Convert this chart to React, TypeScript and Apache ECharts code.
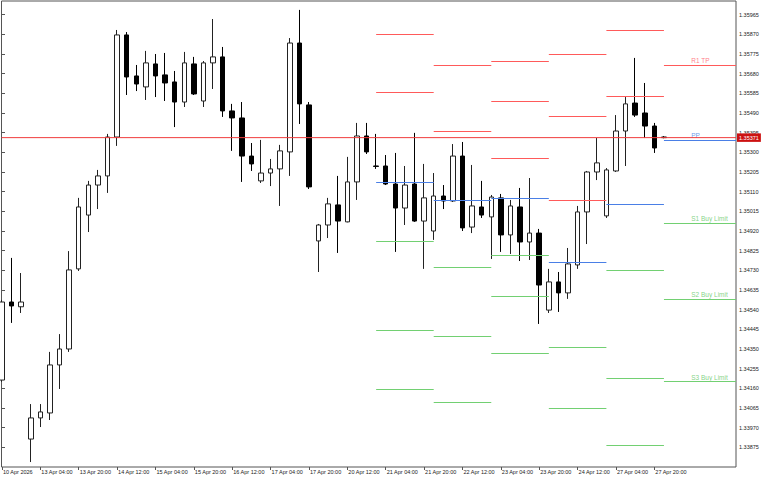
import React, { useEffect, useRef } from "react";
import * as echarts from "echarts";

// H4 candles, 10 Apr 2026 12:00 .. 28 Apr 2026 00:00 (index 0..69)
const open = [
  1.342, 1.34577, 1.34554, 1.33915, 1.34017, 1.34041, 1.34273, 1.3435, 1.34737, 1.34997,
  1.35142, 1.35186, 1.35374, 1.35867, 1.35669, 1.35616, 1.35727, 1.35674, 1.3564, 1.35543,
  1.35727, 1.35548, 1.35732, 1.35761, 1.355, 1.35466, 1.35282, 1.35162, 1.352, 1.3522,
  1.35302, 1.35828, 1.35529, 1.34872, 1.34949, 1.35046, 1.34964, 1.35157, 1.35379, 1.35234,
  1.35234, 1.35147, 1.35031, 1.35147, 1.34968, 1.3492, 1.35089, 1.35065, 1.35282, 1.34939,
  1.35036, 1.34988, 1.3508, 1.34901, 1.35036, 1.34867, 1.3491, 1.34538, 1.34674, 1.34621,
  1.34756, 1.35012, 1.35205, 1.34993, 1.3521, 1.35403, 1.35538, 1.3549, 1.35427, 1.35374,
];
const close = [
  1.34577, 1.34558, 1.34577, 1.34017, 1.34046, 1.34273, 1.3435, 1.34732, 1.35036, 1.35142,
  1.35186, 1.35374, 1.35867, 1.35664, 1.3563, 1.35732, 1.35669, 1.35635, 1.35543, 1.35732,
  1.35582, 1.35732, 1.35761, 1.355, 1.35466, 1.35282, 1.35244, 1.352, 1.3522, 1.35307,
  1.35828, 1.35534, 1.35133, 1.34949, 1.35051, 1.34968, 1.35157, 1.35379, 1.35302, 1.35232,
  1.35147, 1.35031, 1.35142, 1.34968, 1.3508, 1.35089, 1.35065, 1.35282, 1.34935, 1.35041,
  1.34997, 1.35084, 1.34901, 1.35041, 1.34867, 1.3491, 1.34659, 1.34674, 1.34621, 1.34761,
  1.35012, 1.35205, 1.35249, 1.35215, 1.35403, 1.35534, 1.3548, 1.35427, 1.35321, 1.35371,
];
const low = [
  1.34191, 1.34476, 1.34524, 1.33804, 1.33973, 1.34007, 1.34157, 1.34336, 1.34727, 1.34915,
  1.35026, 1.35104, 1.35331, 1.35577, 1.35596, 1.35553, 1.35567, 1.35548, 1.35422, 1.35519,
  1.35577, 1.35519, 1.35606, 1.35471, 1.35307, 1.35157, 1.3521, 1.35152, 1.35137, 1.35041,
  1.35186, 1.35437, 1.35123, 1.34722, 1.34886, 1.34814, 1.34962, 1.3507, 1.35292, 1.3522,
  1.35142, 1.34819, 1.34949, 1.34964, 1.34737, 1.34877, 1.35026, 1.3506, 1.3492, 1.3491,
  1.34983, 1.34785, 1.34819, 1.34809, 1.34775, 1.3478, 1.34471, 1.34524, 1.34529, 1.34592,
  1.34737, 1.34857, 1.35166, 1.34983, 1.35205, 1.35234, 1.35471, 1.35369, 1.35297, 1.35368,
];
const high = [
  1.34587, 1.3479, 1.34717, 1.34084, 1.34084, 1.34336, 1.34422, 1.34823, 1.3508, 1.35162,
  1.35215, 1.35389, 1.35891, 1.35881, 1.35722, 1.3579, 1.35775, 1.3578, 1.35693, 1.35785,
  1.35761, 1.35741, 1.35944, 1.35809, 1.35534, 1.35543, 1.35345, 1.3536, 1.35268, 1.35336,
  1.35852, 1.35988, 1.35543, 1.34954, 1.3508, 1.35186, 1.35278, 1.35442, 1.35442, 1.35389,
  1.35287, 1.35297, 1.35234, 1.35394, 1.35244, 1.352, 1.35142, 1.3534, 1.3535, 1.35239,
  1.35162, 1.35094, 1.35099, 1.3507, 1.35128, 1.35176, 1.3493, 1.34737, 1.34722, 1.34838,
  1.35041, 1.3521, 1.35369, 1.35224, 1.3548, 1.35567, 1.35756, 1.35635, 1.35442, 1.35378,
];

const currentPrice = 1.35371;

// daily pivot segments: 21, 22, 23, 24, 27, 28 Apr (bar index of day start / end)
const dayStart = [39, 45, 51, 57, 63, 69];
const dayEnd = [45, 51, 57, 63, 69, null];
const r3 = [null, null, 1.35741, 1.35774, null, null];
const r2 = [1.35872, 1.35722, 1.35548, 1.35474, 1.3589, null];
const r1 = [1.35592, 1.35401, 1.35273, 1.35068, 1.35571, 1.35722];
const pp = [1.35157, 1.3507, 1.35076, 1.34769, 1.35049, 1.35358];
const s1 = [1.34872, 1.34746, 1.34801, 1.3436, 1.3473, 1.34957];
const s2 = [1.34442, 1.34413, 1.34605, 1.34062, 1.34207, 1.34592];
const s3 = [1.34157, 1.34094, 1.34331, null, 1.33885, 1.34192];

const levelNames = ["R1 TP", "PP", "S1 Buy Limit", "S2 Buy Limit", "S3 Buy Limit"];
const labelAnchor = 71.9;

const xLabelIdx = [0, 4, 8, 12, 16, 20, 24, 28, 32, 36, 40, 44, 48, 52, 56, 60, 64, 68];
const xLabelText = [
  "10 Apr 2026", "13 Apr 04:00", "13 Apr 20:00", "14 Apr 12:00", "15 Apr 04:00",
  "15 Apr 20:00", "16 Apr 12:00", "17 Apr 04:00", "17 Apr 20:00", "20 Apr 12:00",
  "21 Apr 04:00", "21 Apr 20:00", "22 Apr 12:00", "23 Apr 04:00", "23 Apr 20:00",
  "24 Apr 12:00", "27 Apr 04:00", "27 Apr 20:00",
];
const yTicks = [
  1.35965, 1.3587, 1.35775, 1.3568, 1.35585, 1.3549, 1.35395, 1.353, 1.35205, 1.3511,
  1.35015, 1.3492, 1.34825, 1.3473, 1.34635, 1.3454, 1.34445, 1.3435, 1.34255, 1.3416,
  1.34065, 1.3397, 1.33875,
];

const X_MIN = -0.052;
const X_MAX = 76.51;
const Y_MIN = 1.3378;
const Y_MAX = 1.36031;

const RED = "#ff5a5a";
const BLUE = "#4a7fe6";
const GREEN = "#72d072";
const PRICE_RED = "#f03c3c";
const FONT = "Liberation Sans";

export default function App() {
  const ref = useRef<HTMLDivElement>(null);
  useEffect(() => {
    const chart = echarts.init(ref.current as HTMLDivElement, null, { renderer: "svg" });

    const candles = open.map((o, i) => [i, o, close[i], low[i], high[i]]);

    const pivotLines: any[] = [];
    const groups: [Array<number | null>, string][] = [
      [r3, RED], [r2, RED], [r1, RED], [pp, BLUE], [s1, GREEN], [s2, GREEN], [s3, GREEN],
    ];
    groups.forEach(([arr, color]) => {
      arr.forEach((v, d) => {
        if (v == null) return;
        const end = dayEnd[d] == null ? X_MAX : (dayEnd[d] as number);
        pivotLines.push([
          { coord: [dayStart[d], v], lineStyle: { color, width: 1, type: "solid" } },
          { coord: [end, v] },
        ]);
      });
    });

    const last = dayStart.length - 1;
    const labelVals = [r1[last], pp[last], s1[last], s2[last], s3[last]];
    const labelColors = ["#ff5a6a", BLUE, "#66c866", "#66c866", "#66c866"];
    const labelData = levelNames.map((n, k) => ({
      value: [labelAnchor, labelVals[k], n],
      label: { color: labelColors[k] },
    }));

    chart.setOption({
      animation: false,
      backgroundColor: "#ffffff",
      grid: {
        left: 1, top: 1, right: 32, bottom: 13,
        show: true, borderColor: "#555", borderWidth: 1, backgroundColor: "transparent",
      },
      xAxis: {
        type: "value",
        min: X_MIN,
        max: X_MAX,
        axisLine: { show: false },
        splitLine: { show: false },
        axisTick: { show: true, customValues: xLabelIdx, length: 3, lineStyle: { color: "#555" } },
        axisLabel: {
          customValues: xLabelIdx,
          formatter: (v: number) => xLabelText[xLabelIdx.indexOf(Math.round(v))] ?? "",
          fontSize: 5.5,
          fontFamily: FONT,
          color: "#222",
          align: "left",
          margin: 2,
          padding: [0, 0, 0, 1],
        },
      },
      yAxis: {
        type: "value",
        position: "right",
        min: Y_MIN,
        max: Y_MAX,
        axisLine: { show: false },
        splitLine: { show: false },
        axisTick: { show: true, customValues: yTicks, length: 3, lineStyle: { color: "#555" } },
        axisLabel: {
          customValues: yTicks,
          formatter: (v: number) => v.toFixed(5),
          fontSize: 5.5,
          fontFamily: FONT,
          color: "#222",
          margin: 3,
        },
      },
      series: [
        {
          type: "candlestick",
          z: 3,
          data: candles,
          encode: { x: 0, y: [1, 2, 3, 4] },
          barWidth: 5,
          itemStyle: {
            color: "#ffffff",
            color0: "#000000",
            borderColor: "#222222",
            borderColor0: "#000000",
            borderWidth: 1,
          },
        },
        {
          type: "scatter",
          z: 4,
          symbolSize: 1,
          itemStyle: { color: "rgba(0,0,0,0)" },
          silent: true,
          data: labelData,
          label: {
            show: true,
            formatter: (p: any) => p.value[2],
            position: [0, -4],
            align: "left",
            verticalAlign: "middle",
            fontSize: 6.5,
            fontFamily: FONT,
          },
          markLine: {
            silent: true,
            symbol: ["none", "none"],
            label: { show: false },
            data: pivotLines,
          },
        },
        {
          type: "line",
          z: 5,
          silent: true,
          symbol: "none",
          color: PRICE_RED,
          lineStyle: { color: PRICE_RED, width: 1, type: "solid" },
          data: [
            [X_MIN, currentPrice],
            [X_MAX, currentPrice],
          ],
          endLabel: {
            show: true,
            distance: 1,
            formatter: currentPrice.toFixed(5),
            backgroundColor: "#cc1111",
            color: "#ffffff",
            fontSize: 5.5,
            fontFamily: FONT,
            padding: [1.5, 2, 1, 2],
          },
        },
      ],
    });
    return () => chart.dispose();
  }, []);
  return (
    <div
      ref={ref}
      style={{ position: "absolute", left: 0, top: 0, width: 768, height: 480, background: "#fff" }}
    />
  );
}
